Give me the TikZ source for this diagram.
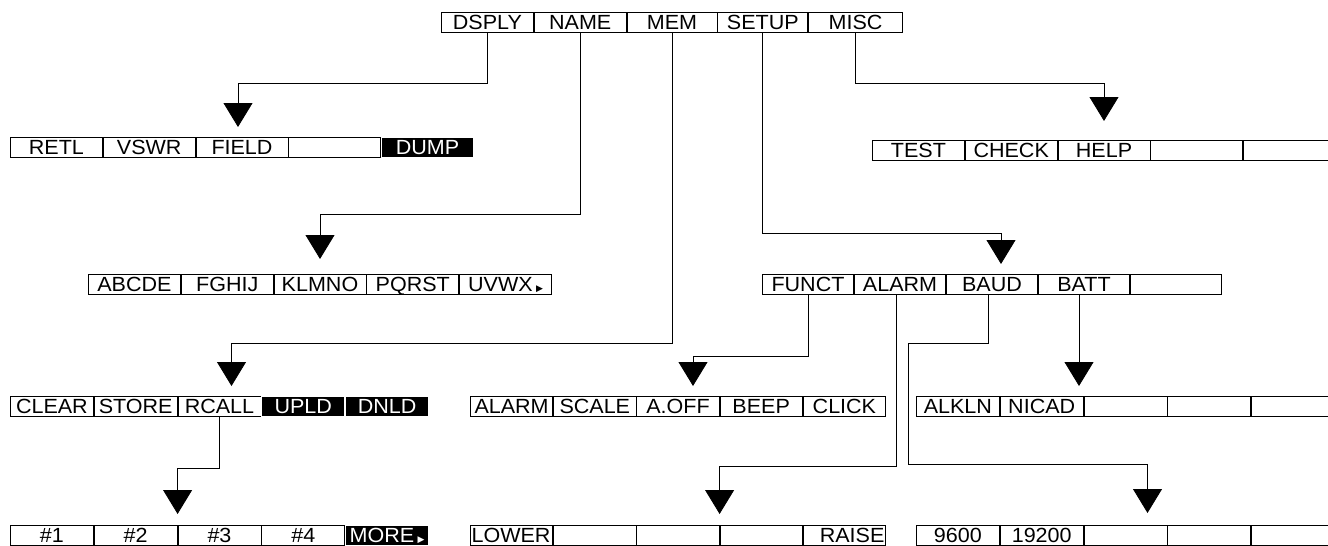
\documentclass[tikz,border=0pt]{standalone}
\usepackage{fontspec}
\usepackage{tikz}
\usetikzlibrary{positioning, arrows.meta}
\newfontfamily\menufont[FakeStretch=1.05]{Liberation Sans}
\newfontfamily\symfont{DejaVu Sans}
\newcommand{\more}{\,{\symfont\fontsize{9}{9}\selectfont▶}}

\begin{document}
\begin{tikzpicture}[
        x=1pt, y=-1pt,
        cell/.style={rectangle, draw, line width=0.8pt, minimum height=20pt,
                     inner sep=0pt, text height=14.9pt, text depth=0pt,
                     font={\menufont\fontsize{20.5}{21}\selectfont}},
        wide/.style={cell, minimum width=92pt},
        narrow/.style={cell, minimum width=83pt},
        dark/.style={fill=black, text=white, draw=white},
        conn/.style={draw, line width=0.8pt,
                     -{Triangle[length=24pt, width=29pt]}, shorten >=10pt}
      ]
        \useasboundingbox (0,0) rectangle (1328,546);
        % main menu
        \node[cell, minimum width=92pt, anchor=north west] (dsply) at (441,12) {DSPLY};
        \node[cell, minimum width=92pt, right=0pt of dsply] (name) {NAME};
        \node[cell, minimum width=90pt, right=0pt of name] (mem) {MEM};
        \node[cell, minimum width=90pt, right=0pt of mem] (setup) {SETUP};
        \node[cell, minimum width=94pt, right=0pt of setup] (misc) {MISC};
        % DSPLY menu
        \node[wide, anchor=north west] (retl) at (10,137) {RETL};
        \node[wide, right=0pt of retl] (vswr) {VSWR};
        \node[wide, right=0pt of vswr] (field) {FIELD};
        \node[wide, right=0pt of field] (d4) {};
        \node[wide, dark, right=0pt of d4] (dump) {DUMP};
        % MISC menu
        \node[wide, anchor=north west] (test) at (872,140) {TEST};
        \node[wide, right=0pt of test] (check) {CHECK};
        \node[wide, right=0pt of check] (help) {HELP};
        \node[wide, right=0pt of help] (m4) {};
        \node[wide, right=0pt of m4] (m5) {};
        % NAME menu
        \node[wide, anchor=north west] (abcde) at (88,274) {ABCDE};
        \node[wide, right=0pt of abcde] (fghij) {FGHIJ};
        \node[wide, right=0pt of fghij] (klmno) {KLMNO};
        \node[wide, right=0pt of klmno] (pqrst) {PQRST};
        \node[wide, right=0pt of pqrst] (uvwx) {UVWX\more};
        % SETUP menu
        \node[wide, minimum width=91.2pt, anchor=north west] (funct) at (762,274) {FUNCT};
        \node[wide, minimum width=91.2pt, right=0pt of funct] (alarm) {ALARM};
        \node[wide, minimum width=91.2pt, right=0pt of alarm] (baud) {BAUD};
        \node[wide, minimum width=91.2pt, right=0pt of baud] (batt) {BATT};
        \node[wide, minimum width=91.2pt, right=0pt of batt] (s5) {};
        % MEM menu
        \node[narrow, anchor=north west] (clear) at (10,396) {CLEAR};
        \node[narrow, right=0pt of clear] (store) {STORE};
        \node[narrow, right=0pt of store] (rcall) {RCALL};
        \node[narrow, dark, right=0pt of rcall] (upld) {UPLD};
        \node[narrow, dark, right=0pt of upld] (dnld) {DNLD};
        % FUNCT menu
        \node[narrow, minimum width=82.4pt, anchor=north west] (falarm) at (470,396) {ALARM};
        \node[narrow, minimum width=82.4pt, right=0pt of falarm] (scale) {SCALE};
        \node[narrow, minimum width=82.4pt, right=0pt of scale] (aoff) {A.OFF};
        \node[narrow, minimum width=82.4pt, right=0pt of aoff] (beep) {BEEP};
        \node[narrow, minimum width=82.4pt, right=0pt of beep] (click) {CLICK};
        % BATT menu
        \node[narrow, anchor=north west] (alkln) at (916,396) {ALKLN};
        \node[narrow, right=0pt of alkln] (nicad) {NICAD};
        \node[narrow, right=0pt of nicad] (t3) {};
        \node[narrow, right=0pt of t3] (t4) {};
        \node[narrow, right=0pt of t4] (t5) {};
        % RCALL menu
        \node[narrow, anchor=north west] (n1) at (10,525) {\#1};
        \node[narrow, right=0pt of n1] (n2) {\#2};
        \node[narrow, right=0pt of n2] (n3) {\#3};
        \node[narrow, right=0pt of n3] (n4) {\#4};
        \node[narrow, dark, right=0pt of n4] (nmore) {MORE\more};
        % ALARM menu
        \node[narrow, minimum width=82.4pt, anchor=north west, text width=80pt, align=left] (lower) at (470,525) {LOWER};
        \node[narrow, minimum width=82.4pt, right=0pt of lower] (l2) {};
        \node[narrow, minimum width=82.4pt, right=0pt of l2] (l3) {};
        \node[narrow, minimum width=82.4pt, right=0pt of l3] (l4) {};
        \node[narrow, minimum width=82.4pt, text width=80pt, align=right, right=0pt of l4] (raise) {RAISE};
        % BAUD menu
        \node[narrow, anchor=north west] (b9600) at (916,525) {9600};
        \node[narrow, right=0pt of b9600] (b19200) {19200};
        \node[narrow, right=0pt of b19200] (b3) {};
        \node[narrow, right=0pt of b3] (b4) {};
        \node[narrow, right=0pt of b4] (b5) {};
        % connectors
        \draw[conn] (dsply.south) -- ++(0,51) -| ([xshift=-4pt]field.north);
        \draw[conn, shorten >=19pt] (misc.south) -- ++(0,51) -| (help.north);
        \draw[conn, shorten >=15pt] (name.south) -- ++(0,182) -| (klmno.north);
        \draw[conn] (setup.south) -- ++(0,201) -| ([xshift=9pt]baud.north);
        \draw[conn] (mem.south) -- ++(0,311) -| ([xshift=12pt]rcall.north);
        \draw[conn] (funct.south) -- ++(0,62) -| ([xshift=15pt]aoff.north);
        \draw[conn] ([xshift=-5pt]batt.south) -- ([xshift=-5pt]batt.south |- nicad.north);
        \draw[conn, shorten >=11pt] (rcall.south) -- ++(0,52) -| (n2.north east);
        \draw[conn, shorten >=11pt] ([xshift=-4pt]alarm.south) -- ++(0,172) -| (l3.north east);
        \draw[conn, shorten >=12pt] ([xshift=-4pt]baud.south) -- ++(0,49) -| ++(-80,121) -| ([xshift=22pt]b3.north);
      \end{tikzpicture}
\end{document}
